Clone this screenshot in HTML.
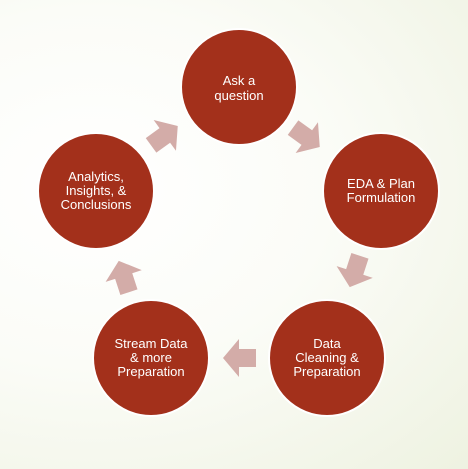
<!DOCTYPE html>
<html><head><style>
html,body{margin:0;padding:0;}
body{width:468px;height:469px;overflow:hidden;background:radial-gradient(ellipse at 20% 40%,#ffffff 0%,#fbfcf7 45%,#eef2e1 100%);}
svg{display:block}
text{font-family:"Liberation Sans",sans-serif;font-size:13px;fill:#fff;text-anchor:middle}
</style></head><body>
<svg width="468" height="469" viewBox="0 0 468 469">
<defs>
<polygon id="ar" points="-16,-9 1,-9 1,-19 17,0 1,19 1,9 -16,9" fill="#d3aca8"/>
</defs>
<use href="#ar" transform="translate(306,137) rotate(36)"/>
<use href="#ar" transform="translate(355,271) rotate(108)"/>
<use href="#ar" transform="translate(240,358) rotate(180)"/>
<use href="#ar" transform="translate(124,277) rotate(252)"/>
<use href="#ar" transform="translate(164,136) rotate(324)"/>
<g fill="#a3301b" stroke="#fff" stroke-width="2">
<circle cx="239" cy="87" r="58"/>
<circle cx="381" cy="191" r="58"/>
<circle cx="327" cy="358" r="58"/>
<circle cx="151" cy="358" r="58"/>
<circle cx="96" cy="191" r="58"/>
</g>
<text x="239" y="85">Ask a</text><text x="239" y="100">question</text>
<text x="381" y="188">EDA &amp; Plan</text><text x="381" y="202">Formulation</text>
<text x="327" y="348">Data</text><text x="327" y="362">Cleaning &amp;</text><text x="327" y="376">Preparation</text>
<text x="151" y="348">Stream Data</text><text x="151" y="362">&amp; more</text><text x="151" y="376">Preparation</text>
<text x="96" y="181">Analytics,</text><text x="96" y="195">Insights, &amp;</text><text x="96" y="209">Conclusions</text>
</svg>
</body></html>
